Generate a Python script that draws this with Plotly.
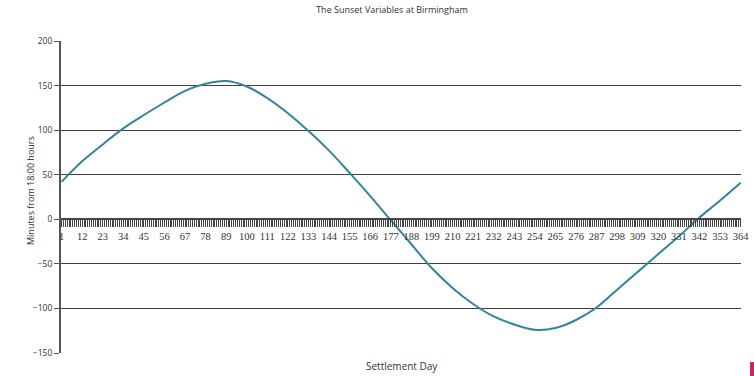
import plotly.graph_objects as go

# Data
days = [1, 12, 23, 34, 45, 56, 67, 78, 89, 100, 111, 122, 133, 144, 155, 166, 177,
        188, 199, 210, 221, 232, 243, 254, 265, 276, 287, 298, 309, 320, 331, 342, 353, 364]
minutes = [42, 65, 84, 102, 117, 131, 144, 152, 155, 149, 136, 119, 99, 77, 52, 26, -1,
           -28, -55, -77, -95, -109, -118, -124, -122, -113, -99, -79, -59, -39, -19, 2, 21, 41]
tick_days = list(range(1, 365, 11))
y_ticks = [-150, -100, -50, 0, 50, 100, 150, 200]

title_text = "The Sunset Variables at Birmingham"
x_title = "Settlement Day"
y_title = "Minutes from 18:00 hours"

font_main = "Open Sans, Liberation Sans, sans-serif"
axis_col = "#555555"
text_col = "#333333"

fig = go.Figure()
fig.add_trace(go.Scatter(
    x=days, y=minutes, mode="lines",
    line=dict(color="#31859C", width=2, shape="spline", smoothing=1.0),
    hoverinfo="x+y", showlegend=False,
))

y_min, y_max = -150, 200
W, H = 754, 376
L, T, R, B = 61, 41, 13, 23
pw, ph = W - L - R, H - T - B


def px_x(x):
    return (x - L) / pw


def px_y(y):
    return (T + ph - y) / ph


fig.update_layout(
    width=W, height=H,
    margin=dict(l=L, r=R, t=T, b=B),
    paper_bgcolor="white", plot_bgcolor="white",
    title=dict(text=title_text, x=392 / W, xanchor="center",
               y=1 - 10 / H, yanchor="middle",
               font=dict(family=font_main, size=9, color=text_col)),
    xaxis=dict(
        range=[0.7, 364.2], anchor="free", position=(0 - y_min) / (y_max - y_min),
        automargin=False,
        tickmode="array", tickvals=tick_days, ticktext=[str(d) for d in tick_days],
        ticks="outside", ticklen=7, tickwidth=1, tickcolor="#444444",
        showline=True, linecolor="#444444", linewidth=2,
        showgrid=False, zeroline=False,
        tickfont=dict(family="Liberation Serif, serif", size=10.5, color=text_col),
        minor=dict(dtick=1, tick0=1, ticks="outside", ticklen=7, tickwidth=1,
                   tickcolor="#444444", showgrid=False),
    ),
    yaxis=dict(
        range=[y_min, y_max], tickvals=y_ticks, automargin=False,
        ticks="outside", ticklen=5, tickcolor=axis_col,
        showline=True, linecolor=axis_col, linewidth=2,
        showgrid=True, gridcolor="#3f3f3f", gridwidth=1.4, zeroline=False,
        tickfont=dict(family=font_main, size=8.5, color=text_col),
    ),
    annotations=[
        dict(text=x_title, x=px_x(402), y=px_y(366), xref="paper", yref="paper",
             xanchor="center", yanchor="middle", showarrow=False,
             font=dict(family=font_main, size=10, color=text_col)),
        dict(text=y_title, x=px_x(30), y=px_y(191), xref="paper", yref="paper",
             xanchor="center", yanchor="middle", showarrow=False, textangle=-90,
             font=dict(family=font_main, size=9, color=text_col)),
    ],
    shapes=[dict(type="rect", xref="paper", yref="paper",
                 x0=px_x(750), x1=px_x(754),
                 y0=px_y(376), y1=px_y(362),
                 fillcolor="#c8285a", line=dict(width=0))],
)

fig.write_html("out.html", config={"displayModeBar": False},
               post_script="document.body.style.margin='0';")
